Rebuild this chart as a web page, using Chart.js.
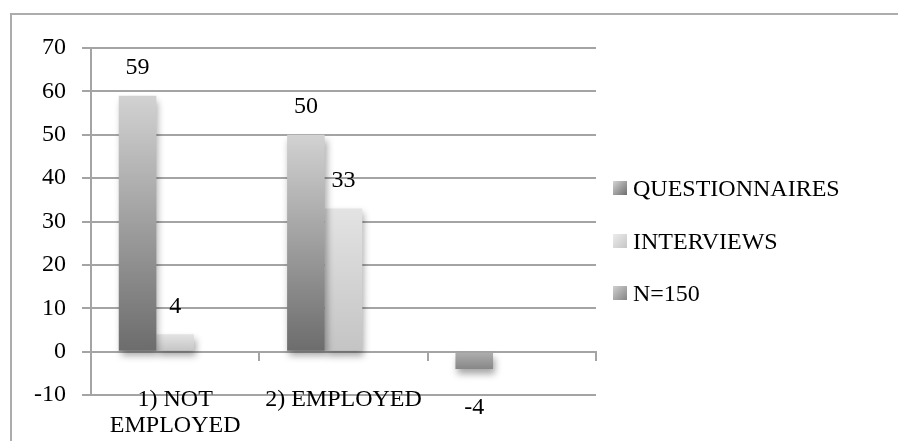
<!DOCTYPE html>
<html>
<head>
<meta charset="utf-8">
<script src="https://cdn.jsdelivr.net/npm/chart.js@4"></script>
<style>
    body { margin: 0; background: #fff; overflow: hidden; }
    #wrap { position: relative; width: 898px; height: 441px; }
    #frame {
        position: absolute; left: 10px; top: 13px; width: 1000px; height: 600px;
        border-top: 2px solid #acacac; border-left: 2px solid #acacac;
    }
    #legend {
        position: absolute; left: 613px; top: 170px;
        font: 24px "Liberation Serif", serif; color: #000;
    }
    .item { height: 52.5px; line-height: 36px; white-space: nowrap; }
    .box { display: inline-block; width: 14px; height: 14px; margin-right: 6px; vertical-align: 1px; }
</style>
</head>
<body>
<div id="wrap">
    <div id="frame"></div>
    <canvas id="chart" width="898" height="441"></canvas>
    <div id="legend"></div>
</div>
<script>
const categories = [["1) NOT", "EMPLOYED"], "2) EMPLOYED", ""];
const seriesNames = ["QUESTIONNAIRES", "INTERVIEWS", "N=150"];
const questionnaires = [59, 50, -4];
const interviews = [4, 33, null];
const n150 = [null, null, null];
const yTicks = [-10, 0, 10, 20, 30, 40, 50, 60, 70];

const FONT = '"Liberation Serif", serif';
const gridColor = "#a4a4a4";

// light-to-dark stops per series (top colour, bottom colour)
const shades = [
    { pos: ["#d2d2d2", "#6c6c6c"], neg: ["#b0b0b0", "#878787"] },
    { pos: ["#e3e3e3", "#c4c4c4"], neg: ["#e3e3e3", "#c4c4c4"] },
    { pos: ["#cccccc", "#888888"], neg: ["#cccccc", "#888888"] }
];

function barGradient(i) {
    return function(c) {
        const chart = c.chart;
        if (!chart.chartArea || !c.parsed || c.parsed.y == null) return shades[i].pos[1];
        const y = chart.scales.y;
        const v = c.parsed.y;
        const top = y.getPixelForValue(Math.max(v, 0));
        const bottom = y.getPixelForValue(Math.min(v, 0));
        const s = v >= 0 ? shades[i].pos : shades[i].neg;
        const g = chart.ctx.createLinearGradient(0, top, 0, bottom + 0.01);
        g.addColorStop(0, s[0]);
        g.addColorStop(1, s[1]);
        return g;
    };
}

const shadowPlugin = {
    id: "barShadow",
    beforeDatasetsDraw(chart) {
        const ctx = chart.ctx;
        ctx.save();
        ctx.shadowColor = "rgba(0,0,0,0.35)";
        ctx.shadowBlur = 7;
        ctx.shadowOffsetX = 2;
        ctx.shadowOffsetY = 5;
    },
    afterDatasetsDraw(chart) {
        chart.ctx.restore();
    }
};

const valueLabels = {
    id: "valueLabels",
    afterDatasetsDraw(chart) {
        const ctx = chart.ctx;
        ctx.save();
        ctx.font = "24px " + FONT;
        ctx.fillStyle = "#000";
        ctx.textAlign = "center";
        ctx.textBaseline = "middle";
        chart.data.datasets.forEach((ds, i) => {
            chart.getDatasetMeta(i).data.forEach((bar, j) => {
                const v = ds.data[j];
                if (v == null) return;
                const y = v >= 0 ? bar.y - 28 : bar.y + 39;
                ctx.fillText(String(v), bar.x, y);
            });
        });
        ctx.restore();
    }
};

const datasets = [questionnaires, interviews, n150].map((d, i) => ({
    label: seriesNames[i],
    data: d,
    backgroundColor: barGradient(i),
    borderWidth: 0,
    categoryPercentage: 0.67,
    barPercentage: 1.0
}));

Chart.defaults.font.family = FONT;
Chart.defaults.font.size = 24;
Chart.defaults.color = "#000";

new Chart(document.getElementById("chart"), {
    type: "bar",
    data: { labels: categories, datasets },
    options: {
        responsive: false,
        animation: false,
        layout: { padding: { left: 0, top: 48, right: 302, bottom: 46 } },
        plugins: {
            legend: { display: false },
            tooltip: { enabled: false }
        },
        scales: {
            x: {
                position: { y: 0 },
                grid: {
                    offset: true,
                    drawOnChartArea: false,
                    tickLength: 8,
                    color: gridColor,
                    lineWidth: 2
                },
                border: { display: true, color: gridColor, width: 2 },
                ticks: { padding: 27, maxRotation: 0, autoSkip: false, font: { size: 24, lineHeight: 1.08 } }
            },
            y: {
                min: -10,
                max: 70,
                afterFit(scale) { scale.width = 91; },
                afterBuildTicks(scale) { scale.ticks = yTicks.map(v => ({ value: v })); },
                grid: { color: gridColor, lineWidth: 2, tickLength: 9 },
                border: { color: gridColor, width: 2 },
                ticks: { padding: 16 }
            }
        }
    },
    plugins: [shadowPlugin, valueLabels]
});

// legend built from the dataset names
const legendGrad = [
    "linear-gradient(135deg, #d4d4d4, #6e6e6e)",
    "linear-gradient(135deg, #ececec, #c6c6c6)",
    "linear-gradient(135deg, #d0d0d0, #858585)"
];
const legendEl = document.getElementById("legend");
seriesNames.forEach((name, i) => {
    const item = document.createElement("div");
    item.className = "item";
    const box = document.createElement("span");
    box.className = "box";
    box.style.background = legendGrad[i];
    item.appendChild(box);
    item.appendChild(document.createTextNode(name));
    legendEl.appendChild(item);
});
</script>
</body>
</html>
